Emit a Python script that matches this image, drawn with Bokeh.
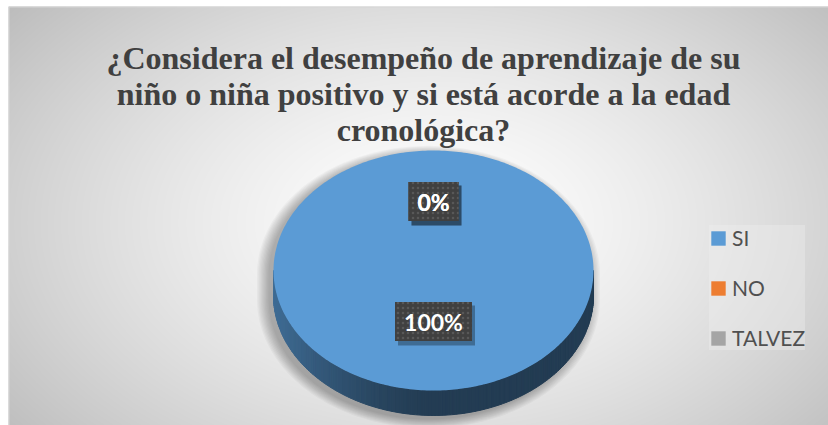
import numpy as np
from bokeh.plotting import figure
from bokeh.models import Range1d, Label, Legend, LegendItem, ColumnDataSource
from bokeh.core.properties import value
from bokeh.embed import file_html
from bokeh.resources import INLINE

# ---------------- data ----------------
title_lines = [
    "¿Considera el desempeño de aprendizaje de su",
    "niño o niña positivo y si está acorde a la edad",
    "cronológica?",
]
categories = ["SI", "NO", "TALVEZ"]
values = [100, 0, 0]
colors = ["#5B9BD5", "#ED7D31", "#A5A5A5"]

# ---------------- layout (screen px, y measured from top) ----------------
W, H = 828, 425
X0, Y0 = 8, 6                # chart area top-left
cx, cy_s = 433, 270          # pie centre
cy = H - cy_s
rx, ry, depth = 160, 120, 25

p = figure(width=W, height=H, x_range=Range1d(0, W), y_range=Range1d(0, H),
           output_backend="svg", toolbar_location=None, min_border=0,
           x_axis_location=None, y_axis_location=None)
p.grid.visible = False
p.outline_line_color = None
p.background_fill_color = "#ffffff"
p.border_fill_color = "#ffffff"

# chart-area background: radial gradient
CW, CH = W - X0, H - Y0
yy, xx = np.mgrid[0:CH, 0:CW]
sx_ = xx + X0
sy_ = H - yy                 # screen y of each row (row 0 at bottom)
d = np.sqrt(((sx_ - 433) / 520.0) ** 2 + ((sy_ - 223) / 330.0) ** 2)
g = (255 - 62 * np.clip(d, 0, 1.25) ** 1.4).astype(np.uint32)
img = (np.uint32(255) << 24) | (g << 16) | (g << 8) | g
p.image_rgba(image=[img.astype(np.uint32)], x=X0, y=0, dw=CW, dh=CH)
p.line([X0 + 0.5, X0 + 0.5, W], [0, H - Y0 - 0.5, H - Y0 - 0.5],
       line_color="#d6d6d6", line_width=1)


def pt(a, dy=0.0, sx=1.0, sy=1.0, ox=0.0, oy=0.0):
    return cx + ox + rx * sx * np.sin(a), cy + oy + ry * sy * np.cos(a) - dy


# soft shadow of the pie silhouette
a_top = np.linspace(-np.pi / 2, np.pi / 2, 120)
a_bot = np.linspace(np.pi / 2, 3 * np.pi / 2, 120)
for k in range(10):
    s = 1.0 + 0.008 * k
    x1, y1 = pt(a_top, 0, s, s, -5, -4)
    x2, y2 = pt(a_bot, depth, s, s, -5, -4)
    p.patch(np.concatenate([x1, x2]), np.concatenate([y1, y2]),
            fill_color="#000000", fill_alpha=0.03, line_color=None)

total = float(sum(values))
fracs = [v / total for v in values]
starts = np.cumsum([0.0] + fracs[:-1])


def rgb(hexc):
    hexc = hexc.lstrip("#")
    return tuple(int(hexc[i:i + 2], 16) for i in (0, 2, 4))


# side (extrusion) of the pie, front half only
N = 180
sx_list, sy_list, scol = [], [], []
edges = np.linspace(np.pi / 2, 3 * np.pi / 2, N + 1)
for i in range(N):
    a0, a1 = edges[i], edges[i + 1]
    am = 0.5 * (a0 + a1)
    pos = (am / (2 * np.pi)) % 1.0
    idx = 0
    for j in range(len(values)):
        if fracs[j] > 0 and starts[j] <= pos <= starts[j] + fracs[j]:
            idx = j
    u_left = (1 - np.sin(am)) / 2
    f = 0.39 + 0.31 * np.clip((u_left - 0.5) / 0.5, 0, 1) ** 1.5
    r, gg, b = rgb(colors[idx])
    scol.append("#%02x%02x%02x" % (int(r * f), int(gg * f), int(b * f)))
    xa0, ya0 = pt(a0)
    xa1, ya1 = pt(a1)
    sx_list.append([xa0, xa1, xa1, xa0])
    sy_list.append([ya0, ya1, ya1 - depth, ya0 - depth])
p.patches(sx_list, sy_list, fill_color=scol, line_color=scol, line_width=1)

# top faces, drawn from the values
renderers = []
for j, (cat, fr, st) in enumerate(zip(categories, fracs, starts)):
    n = max(2, int(360 * fr) + 2)
    a = np.linspace(st * 2 * np.pi, (st + fr) * 2 * np.pi, n)
    ax_, ay_ = pt(a)
    if fr >= 0.9999:           # full ellipse: no radius seam
        xs, ys = ax_[:-1], ay_[:-1]
    else:
        xs = np.concatenate([[cx], ax_, [cx]])
        ys = np.concatenate([[cy], ay_, [cy]])
    r = p.patch(xs, ys, fill_color=colors[j], line_color=None)
    renderers.append(r)

# data labels
lx, ly, lt, lw = [], [], [], []
for j, (fr, st) in enumerate(zip(fracs, starts)):
    am = (st + fr / 2) * 2 * np.pi
    lx.append(cx + 0.5 * rx * np.sin(am))
    ly.append(cy + 9 + 0.5 * ry * np.cos(am))
    txt = "%d%%" % round(values[j] / total * 100)
    lt.append(txt)
    lw.append(23 + 13.5 * len(txt))
src = ColumnDataSource(dict(x=lx, y=ly, text=lt, w=lw,
                            xs=[v + 3 for v in lx], ys=[v - 4 for v in ly]))
p.rect("xs", "ys", width="w", height=40, source=src, fill_color="#000000",
       fill_alpha=0.3, line_color=None)
p.rect("x", "y", width="w", height=39, source=src, fill_color="#404040",
       hatch_pattern="dot", hatch_color="#585858", hatch_scale=5, hatch_weight=1.2,
       line_color=None)
p.text("x", "y", text="text", source=src, text_font=value("Lato"),
       text_font_style="bold", text_font_size="23px", text_color="white",
       text_align="center", text_baseline="middle")

# title
baselines = [57.5, 93.5, 129.5]
for line, yb in zip(title_lines, baselines):
    p.add_layout(Label(x=423, y=H - yb, text=line, text_align="center",
                       text_baseline="alphabetic", text_font="Liberation Serif",
                       text_font_size="32px", text_font_style="bold",
                       text_color="#404040"))

# legend
items = [LegendItem(label=c, renderers=[r]) for c, r in zip(categories, renderers)]
legend = Legend(items=items, location=(709, 75), orientation="vertical",
                glyph_width=18, glyph_height=18, label_height=20, spacing=25,
                padding=10, margin=0, label_standoff=5,
                label_text_font="Lato", label_text_font_size="21px",
                label_text_color="#505050", background_fill_color="#f0f0f0",
                background_fill_alpha=0.35, border_line_color=None)
p.add_layout(legend)

open("out.html", "w").write(file_html(p, INLINE))
